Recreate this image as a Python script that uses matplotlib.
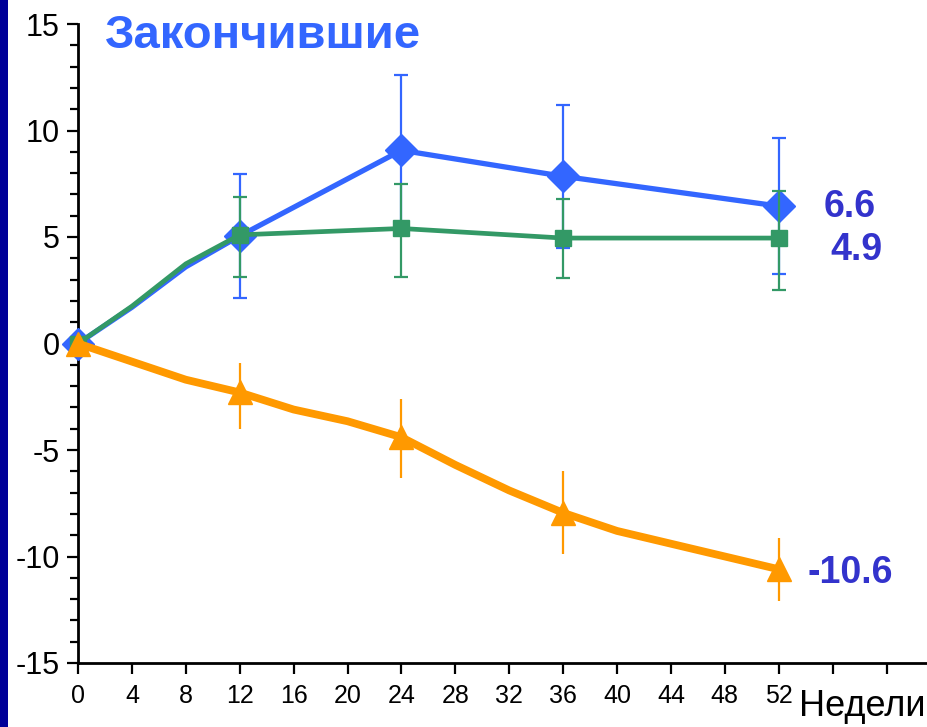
import matplotlib
matplotlib.use("Agg")
import matplotlib.pyplot as plt
from matplotlib.patches import Rectangle
from matplotlib.ticker import MultipleLocator

# ---- data ----
blue_weeks = [0, 4, 8, 12, 24, 36, 52]
blue_vals = [0.0, 1.7, 3.6, 5.05, 9.07, 7.85, 6.45]
blue_err_weeks = [12, 24, 36, 52]
blue_err_vals = [5.05, 9.07, 7.85, 6.45]
blue_err = [2.9, 3.55, 3.35, 3.2]

green_weeks = [0, 4, 8, 12, 24, 36, 52]
green_vals = [0.0, 1.75, 3.74, 5.1, 5.4, 4.95, 4.95]
green_err_weeks = [12, 24, 36, 52]
green_err_vals = [5.0, 5.3, 4.93, 4.82]
green_err = [1.9, 2.2, 1.85, 2.33]

orange_weeks = [0, 4, 8, 12, 16, 20, 24, 28, 32, 36, 40, 52]
orange_vals = [0.0, -0.85, -1.7, -2.3, -3.1, -3.65, -4.4, -5.7, -6.9, -7.95, -8.8, -10.6]
orange_err_weeks = [12, 24, 36, 52]
orange_err_vals = [-2.45, -4.45, -7.93, -10.62]
orange_err = [1.55, 1.85, 1.93, 1.47]

marker_weeks = [0, 12, 24, 36, 52]
xticks = list(range(0, 61, 4))
xtick_labels = [str(t) if t <= 52 else "" for t in xticks]
yticks = [-15, -10, -5, 0, 5, 10, 15]

title = "Закончившие"
end_labels = ["6.6", "4.9", "-10.6"]
xlabel = "Недели"

BLUE = "#3366FF"
GREEN = "#339966"
ORANGE = "#FF9900"
LABEL = "#3333CC"

plt.rcParams['font.family'] = ['Liberation Sans', 'DejaVu Sans']
plt.rcParams['axes.unicode_minus'] = False

fig = plt.figure(figsize=(9.27, 7.27), dpi=100)
fig.patches.append(Rectangle((0, 0), 8 / 927, 1, transform=fig.transFigure,
                             facecolor="#000099", edgecolor="none", zorder=0))
ax = fig.add_axes([78 / 927, 64 / 727, 1 - 78 / 927, 639 / 727])
ax.set_xlim(0, 63)
ax.set_ylim(-15, 15)


def series(wk, vals, ewk, evals, err, color, lw, marker, ms, cap, z):
    ax.errorbar(ewk, evals, yerr=err, fmt='none', ecolor=color, elinewidth=1.6,
                capsize=cap, capthick=1.6, zorder=z, clip_on=False)
    idx = [wk.index(w) for w in marker_weeks]
    ax.plot(wk, vals, color=color, lw=lw, marker=marker, ms=ms, markevery=idx,
            solid_joinstyle='round', zorder=z + 0.5, clip_on=False)


series(blue_weeks, blue_vals, blue_err_weeks, blue_err_vals, blue_err,
       BLUE, 3.8, 'D', 16, 5, 3)
series(green_weeks, green_vals, green_err_weeks, green_err_vals, green_err,
       GREEN, 3.4, 's', 11.5, 5, 4)
series(orange_weeks, orange_vals, orange_err_weeks, orange_err_vals, orange_err,
       ORANGE, 5.6, '^', 17, 0, 5)

for s in ['top', 'right']:
    ax.spines[s].set_visible(False)
for s in ['left', 'bottom']:
    ax.spines[s].set_linewidth(2)

ax.set_xticks(xticks)
ax.set_xticklabels(xtick_labels)
ax.set_yticks(yticks)
ax.yaxis.set_minor_locator(MultipleLocator(1))
ax.tick_params(axis='both', which='major', direction='out', length=8, width=1.6,
               color='black')
ax.tick_params(axis='y', which='minor', direction='out', length=6, width=1.6)
ax.tick_params(axis='y', labelsize=22, pad=5)
ax.tick_params(axis='x', labelsize=18, pad=7)

fig.text(105 / 927, 1 - 36 / 727, title, color=BLUE, fontsize=34,
         fontweight='bold', va='center', ha='left')
fig.text(850 / 927, 1 - 207 / 727, end_labels[0], color=LABEL, fontsize=27,
         fontweight='bold', va='center', ha='center')
fig.text(856 / 927, 1 - 250 / 727, end_labels[1], color=LABEL, fontsize=27,
         fontweight='bold', va='center', ha='center')
fig.text(850 / 927, 1 - 573 / 727, end_labels[2], color=LABEL, fontsize=27,
         fontweight='bold', va='center', ha='center')
fig.text(862 / 927, 1 - 707 / 727, xlabel, color='black', fontsize=26,
         va='center', ha='center')

fig.savefig("out.png", dpi=100)
